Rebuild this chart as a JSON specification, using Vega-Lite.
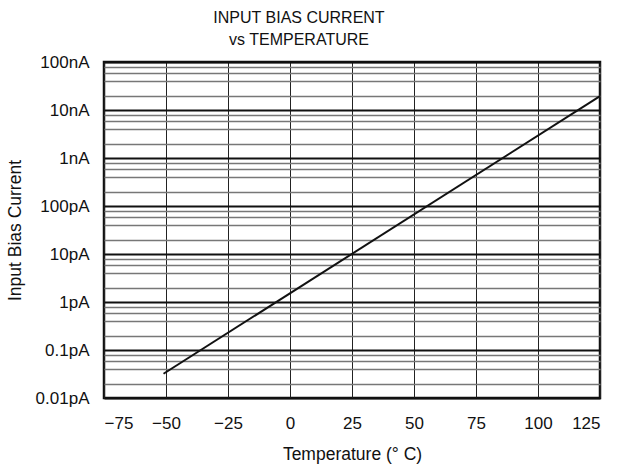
{
  "$schema": "https://vega.github.io/schema/vega-lite/v6.json",
  "autosize": "none",
  "padding": {"left": 104, "top": 62, "right": 18, "bottom": 68},
  "width": 496,
  "height": 336,
  "background": "white",
  "config": {
    "font": "Liberation Sans",
    "view": {"stroke": "#111", "strokeWidth": 2.5},
    "axis": {"labelFont": "Liberation Sans", "titleFont": "Liberation Sans", "labelFontSize": 17, "titleFontSize": 17.5, "titleFontWeight": "normal", "labelColor": "#111", "titleColor": "#111"}
  },
  "title": {
    "text": ["INPUT BIAS CURRENT", "vs TEMPERATURE"],
    "fontSize": 16,
    "fontWeight": "normal",
    "font": "Liberation Sans",
    "color": "#111",
    "anchor": "middle",
    "frame": "group",
    "dx": -53,
    "offset": 5,
    "lineHeight": 22
  },
  "data": {
    "values": [
      {"temp": -51, "current": 3.2e-14},
      {"temp": 125, "current": 1.95e-8}
    ]
  },
  "layer": [
    {
      "mark": {"type": "line", "opacity": 0},
      "encoding": {
        "x": {"field": "temp", "type": "quantitative", "scale": {"domain": [-75, 125], "nice": false},
          "axis": {"orient": "bottom", "title": null, "labels": false, "ticks": false, "domain": false, "grid": true, "values": [-75, -50, -25, 0, 25, 50, 75, 100, 125], "gridColor": "#222", "gridWidth": 1}},
        "y": {"field": "current", "type": "quantitative", "scale": {"type": "log", "domain": [1e-14, 1e-7], "nice": false},
          "axis": {"orient": "left", "title": null, "labels": false, "ticks": false, "domain": false, "grid": true, "gridColor": "#777", "gridWidth": 1.3,
            "values": [2e-14, 4e-14, 6e-14, 8e-14, 2e-13, 4e-13, 6e-13, 8e-13, 2e-12, 4e-12, 6e-12, 8e-12, 2e-11, 4e-11, 6e-11, 8e-11, 2e-10, 4e-10, 6e-10, 8e-10, 2e-9, 4e-9, 6e-9, 8e-9, 2e-8, 4e-8, 6e-8, 8e-8]}}
      }
    },
    {
      "mark": {"type": "line", "color": "#111", "strokeWidth": 2},
      "encoding": {
        "x": {"field": "temp", "type": "quantitative", "scale": {"domain": [-75, 125], "nice": false},
          "axis": {"orient": "bottom", "title": "Temperature (° C)", "titlePadding": 14, "grid": false, "ticks": false, "domain": false, "labelPadding": 17, "values": [-75, -50, -25, 0, 25, 50, 75, 100, 125]}},
        "y": {"field": "current", "type": "quantitative", "scale": {"type": "log", "domain": [1e-14, 1e-7], "nice": false},
          "axis": {"orient": "left", "title": "Input Bias Current", "titlePadding": 11, "grid": true, "gridColor": "#111", "gridWidth": 2.2, "ticks": false, "domain": false, "labelPadding": 15,
            "values": [1e-14, 1e-13, 1e-12, 1e-11, 1e-10, 1e-9, 1e-8, 1e-7],
            "labelExpr": "['0.01pA','0.1pA','1pA','10pA','100pA','1nA','10nA','100nA'][round(log(datum.value)/LN10)+14]"}}
      }
    }
  ],
  "resolve": {"axis": {"x": "independent", "y": "independent"}}
}
